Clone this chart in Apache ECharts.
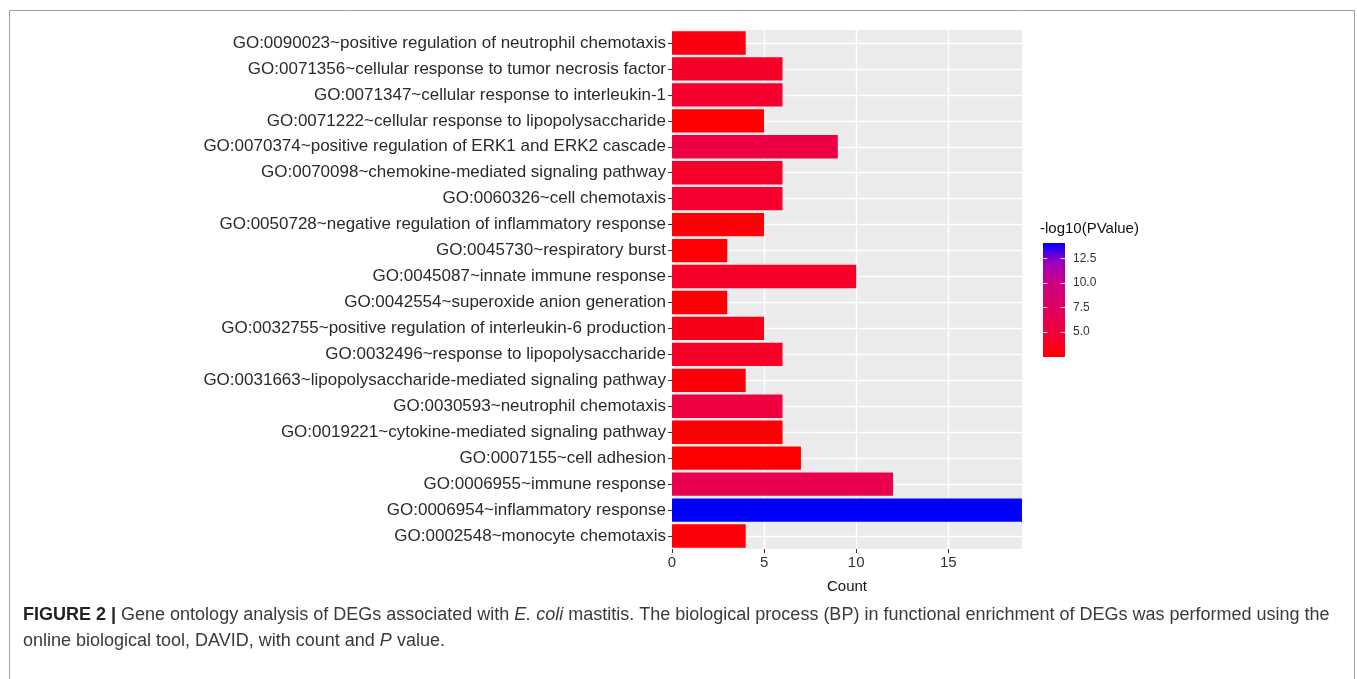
<!DOCTYPE html>
<html>
<head>
<meta charset="utf-8">
<script src="https://cdn.jsdelivr.net/npm/echarts@6/dist/echarts.min.js"></script>
<style>html,body{margin:0;padding:0;background:#fff;}#chart{width:1357px;height:679px;}</style>
</head>
<body>
<div id="chart"></div>
<script>
// Categories listed bottom to top
const categories = [
  'GO:0002548~monocyte chemotaxis',
  'GO:0006954~inflammatory response',
  'GO:0006955~immune response',
  'GO:0007155~cell adhesion',
  'GO:0019221~cytokine-mediated signaling pathway',
  'GO:0030593~neutrophil chemotaxis',
  'GO:0031663~lipopolysaccharide-mediated signaling pathway',
  'GO:0032496~response to lipopolysaccharide',
  'GO:0032755~positive regulation of interleukin-6 production',
  'GO:0042554~superoxide anion generation',
  'GO:0045087~innate immune response',
  'GO:0045730~respiratory burst',
  'GO:0050728~negative regulation of inflammatory response',
  'GO:0060326~cell chemotaxis',
  'GO:0070098~chemokine-mediated signaling pathway',
  'GO:0070374~positive regulation of ERK1 and ERK2 cascade',
  'GO:0071222~cellular response to lipopolysaccharide',
  'GO:0071347~cellular response to interleukin-1',
  'GO:0071356~cellular response to tumor necrosis factor',
  'GO:0090023~positive regulation of neutrophil chemotaxis'
];
const counts = [4, 19, 12, 7, 6, 6, 4, 6, 5, 3, 10, 3, 5, 6, 6, 9, 5, 6, 6, 4];
const negLog10P = [2.8, 14.1, 6.3, 2.5, 2.7, 5.2, 2.9, 4.0, 3.5, 2.6, 4.0, 2.6, 2.8, 4.3, 4.1, 5.5, 2.45, 4.3, 4.1, 3.2];
const countTicks = [0, 5, 10, 15];
const colorTicks = [5, 7.5, 10, 12.5];
const colorMin = 2.45, colorMax = 14.1;
const countMax = 19;
// red -> blue ramp interpolated in CIELAB (as ggplot2 does)
const rampColors = ['#FF0000', '#F40031', '#E80050', '#DA006C', '#CA0089', '#9A00C3', '#0000FF'];

const chart = echarts.init(document.getElementById('chart'), null, {renderer: 'canvas'});
const FONT = '"Liberation Sans", Arial, Helvetica, sans-serif';
const data = categories.map((c, i) => [counts[i], c, negLog10P[i]]);

const gradStops = rampColors.map((c, i) => ({offset: 1 - i / (rampColors.length - 1), color: c}));

// white tick marks inside the colour bar (left and right edges)
const barTickLines = [];
colorTicks.forEach(v => {
  barTickLines.push([{coord: [0, v]}, {coord: [0.2, v]}]);
  barTickLines.push([{coord: [0.8, v]}, {coord: [1, v]}]);
});

const option = {
  animation: false,
  backgroundColor: '#ffffff',
  title: {
    left: 18, top: 597,
    text: '{b|FIGURE 2 |} {n|Gene ontology analysis of DEGs associated with }{i|E. coli}{n| mastitis. The biological process (BP) in functional enrichment of DEGs was performed using the}\n{n|online biological tool, DAVID, with count and }{i|P}{n| value.}',
    textStyle: {
      fontWeight: 'normal',
      lineHeight: 26,
      rich: {
        b: {fontFamily: FONT, fontSize: 18, fontWeight: 'bold', color: '#222', lineHeight: 26},
        n: {fontFamily: FONT, fontSize: 18, fontWeight: 'normal', color: '#3a3a3a', lineHeight: 26},
        i: {fontFamily: FONT, fontSize: 18, fontWeight: 'normal', fontStyle: 'italic', color: '#3a3a3a', lineHeight: 26}
      }
    }
  },
  graphic: [
    {type: 'rect', shape: {x: 9.5, y: 10.5, width: 1345, height: 700}, style: {fill: 'none', stroke: '#a0a0a0', lineWidth: 1}, silent: true, z: -1},
    {type: 'text', left: 1040, top: 221, style: {text: '-log10(PValue)', fontFamily: FONT, fontSize: 15, fill: '#111'}}
  ],
  grid: [
    {left: 672, top: 30, right: 335, bottom: 130, show: true, backgroundColor: '#EBEBEB', borderWidth: 0},
    {left: 1043, top: 243, width: 22, height: 114, show: true, borderWidth: 0,
     backgroundColor: {type: 'linear', x: 0, y: 0, x2: 0, y2: 1, colorStops: gradStops}}
  ],
  visualMap: {
    type: 'continuous', show: false, seriesIndex: 0, dimension: 2,
    min: colorMin, max: colorMax,
    inRange: {color: rampColors}
  },
  xAxis: [
    {
      gridIndex: 0, type: 'value', min: 0, max: countMax, interval: 2.5,
      name: 'Count', nameLocation: 'middle', nameGap: 30,
      nameTextStyle: {fontFamily: FONT, fontSize: 15, color: '#111'},
      axisLine: {show: false},
      axisTick: {show: true, length: 4, lineStyle: {color: '#333'}, customValues: countTicks},
      axisLabel: {customValues: countTicks, fontFamily: FONT, fontSize: 15, color: '#333', margin: 6},
      splitLine: {show: true, showMaxLine: false, lineStyle: {color: '#ffffff', width: 0.7}}
    },
    {
      gridIndex: 0, type: 'value', min: 0, max: countMax, interval: 5, position: 'top',
      axisLine: {show: false}, axisTick: {show: false}, axisLabel: {show: false},
      splitLine: {show: true, showMaxLine: false, lineStyle: {color: '#ffffff', width: 1.4}}
    },
    {gridIndex: 1, type: 'value', min: 0, max: 1,
     axisLine: {show: false}, axisTick: {show: false}, axisLabel: {show: false}, splitLine: {show: false}}
  ],
  yAxis: [
    {
      gridIndex: 0, type: 'category', data: categories,
      axisLine: {show: false},
      axisTick: {show: true, alignWithLabel: true, length: 4, lineStyle: {color: '#333'}},
      axisLabel: {fontFamily: FONT, fontSize: 17, color: '#2a2a2a', margin: 6},
      splitLine: {show: false}
    },
    {
      gridIndex: 1, type: 'value', min: colorMin, max: colorMax, position: 'right',
      axisLine: {show: false},
      axisTick: {show: false},
      axisLabel: {customValues: colorTicks, formatter: v => v.toFixed(1), fontFamily: FONT, fontSize: 12, color: '#333', margin: 8},
      splitLine: {show: false}
    }
  ],
  series: [
    {
      type: 'bar', xAxisIndex: 0, yAxisIndex: 0, data: data,
      encode: {x: 0, y: 1}, barWidth: '90%', z: 5
    },
    {
      type: 'line', xAxisIndex: 0, yAxisIndex: 0, data: [], z: 1, silent: true,
      markLine: {
        silent: true, symbol: ['none', 'none'], animation: false,
        label: {show: false},
        lineStyle: {color: '#ffffff', width: 1.4, type: 'solid'},
        emphasis: {disabled: true},
        data: categories.map(c => ({yAxis: c}))
      }
    },
    {
      type: 'line', xAxisIndex: 2, yAxisIndex: 1, data: [], z: 5, silent: true,
      markLine: {
        silent: true, symbol: ['none', 'none'], animation: false,
        label: {show: false},
        lineStyle: {color: 'rgba(255,255,255,0.85)', width: 1, type: 'solid'},
        emphasis: {disabled: true},
        data: barTickLines
      }
    }
  ]
};
chart.setOption(option);
</script>
</body>
</html>
